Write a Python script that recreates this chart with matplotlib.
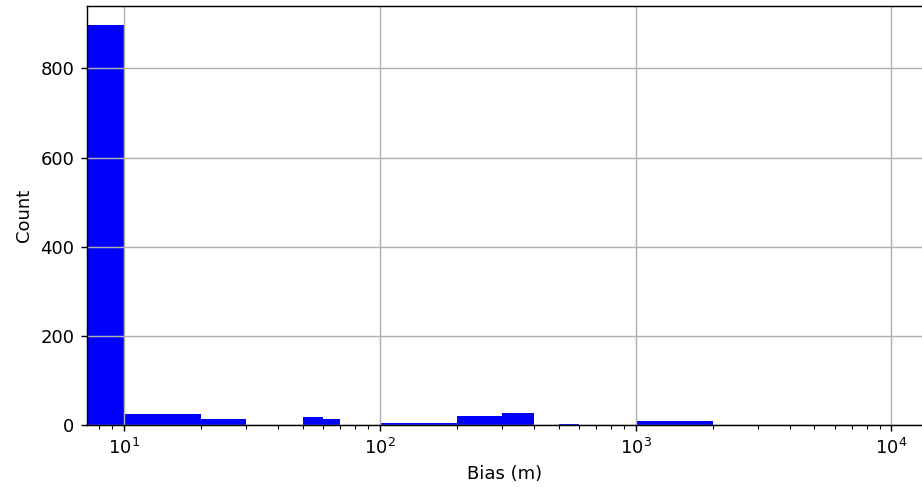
import matplotlib
matplotlib.use("Agg")
from matplotlib import pyplot as plt

# histogram bin edges (m) and counts per bin
bin_edges = [1, 10, 20, 30, 40, 50, 60, 70, 80, 90, 100,
             200, 300, 400, 500, 600, 700, 800, 900, 1000,
             2000, 3000, 4000, 5000, 6000, 7000, 8000, 9000, 10000]
counts = [897, 24, 13, 0, 1, 17, 14, 0, 0, 0,
          4, 20, 26, 0, 2, 0, 1, 1, 0,
          9, 0, 0, 0, 0, 0, 0, 0, 0]

dpi = 130
fig = plt.figure(figsize=(922 / dpi, 487 / dpi), dpi=dpi)
ax = fig.add_axes([87 / 922, 62 / 487, 836 / 922, 419 / 487])
ax.hist(bin_edges[:-1], bins=bin_edges, weights=counts, color='blue')
ax.set_xscale('log')
ax.set_xlim(7.17, 13300)
ax.set_ylim(0, 940)
ax.set_yticks([0, 200, 400, 600, 800])
ax.grid(True)
ax.set_xlabel('Bias (m)')
ax.set_ylabel('Count')
fig.savefig('out.png', dpi=dpi)
